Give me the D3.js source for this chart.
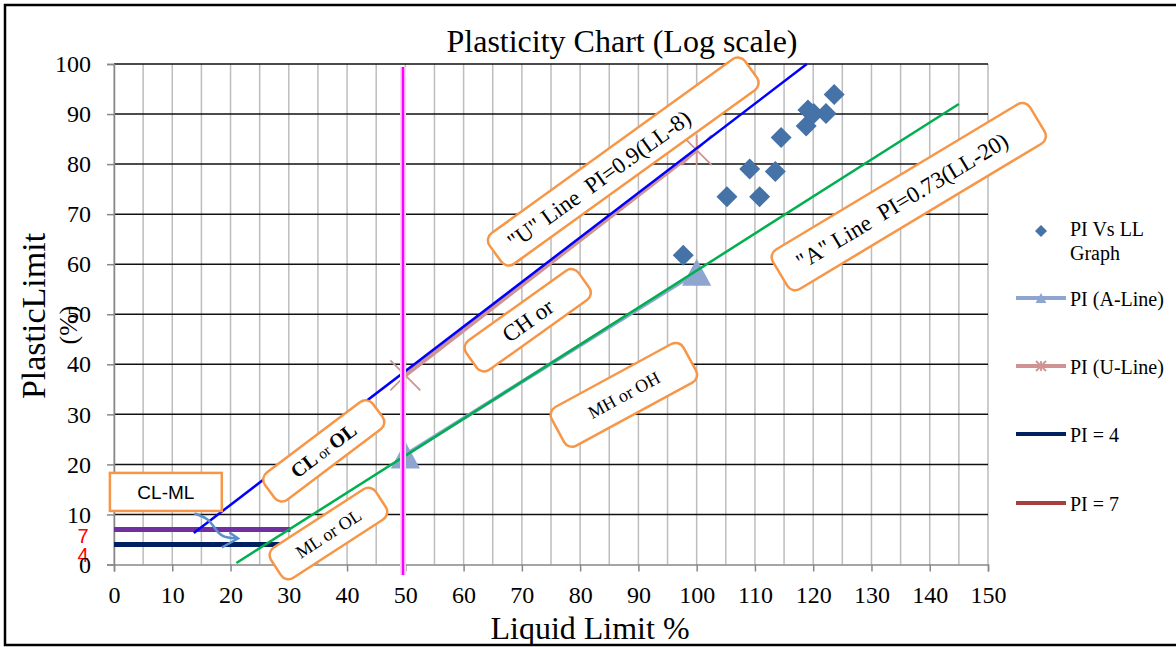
<!DOCTYPE html>
<html><head><meta charset="utf-8">
<script src="https://cdn.jsdelivr.net/npm/d3@7"></script>
<style>body{margin:0;background:#fff}svg{display:block}text{white-space:pre}</style>
</head><body>
<svg id="c" width="1176" height="647"></svg>
<script>
// ---------- data ----------
const xTickValues = d3.range(0, 151, 10);
const yTickValues = d3.range(0, 101, 10);
const xGridValues = d3.range(0, 151, 5);
const yGridValues = d3.range(0, 101, 10);

const sampleLL = [97.7, 105.2, 110.8, 109.1, 113.5, 114.5, 118.8, 119.1, 120.1, 122.2, 123.6];
const samplePI = [61.8, 73.5, 73.5, 79.0, 78.5, 85.3, 87.6, 90.8, 90.1, 90.1, 93.9];

const aLineLL = [50, 100];
const aLinePI = [21.9, 58.4];
const uLineLL = [50, 100];
const uLinePI = [37.8, 82.8];

const uDrawnLL = [13.7, 118.9], uDrawnPI = [6.3, 100];
const aDrawnLL = [21, 145], aDrawnPI = [0.3, 92];
const pi4LL = [0, 30], pi4PI = [4, 4];
const pi7LL = [0, 30.3], pi7PI = [7, 7];
const llLineLL = [49.6, 49.6], llLinePI = [-2.1, 99.4];

const arrowLL = [13.8, 16.2, 17.3, 18.5, 21.2];
const arrowPI = [10.2, 9.2, 7.2, 5.4, 5.2];
const arrowHeadLL = [19.8, 21.3, 18.5];
const arrowHeadPI = [6.4, 5.2, 3.4];

const legendLabels = ["PI Vs LL Graph", "PI (A-Line)", "PI (U-Line)", "PI = 4", "PI = 7"];

// annotation boxes: centre in data units
const boxLabels = ['"U" Line  PI=0.9(LL-8)', '"A" Line  PI=0.73(LL-20)', 'CH or', 'MH or OH', 'CL or OL', 'ML or OL'];
const boxLL = [87.4, 136.4, 71.0, 87.5, 36.0, 36.8];
const boxPI = [80.5, 73.5, 48.8, 33.9, 22.7, 6.2];

// ---------- layout ----------
const svg = d3.select("#c");
const x = d3.scaleLinear().domain([0, 150]).range([114, 988]);
const y = d3.scaleLinear().domain([0, 100]).range([564.5, 64]);
const serif = "'Liberation Serif','Times New Roman',serif";
const sans = "'Liberation Sans',Arial,sans-serif";

// outer frame
svg.append("rect").attr("x", 5).attr("y", 5).attr("width", 1180).attr("height", 640)
  .attr("fill", "none").attr("stroke", "#000").attr("stroke-width", 2.5);

// grid
svg.append("g").selectAll("line").data(xGridValues).join("line")
  .attr("x1", d => x(d)).attr("x2", d => x(d)).attr("y1", y(0)).attr("y2", y(100))
  .attr("stroke", "#bdbdbd").attr("stroke-width", 1.5);
svg.append("g").selectAll("line").data(yGridValues.filter(d => d > 0)).join("line")
  .attr("x1", x(0)).attr("x2", x(150)).attr("y1", d => y(d)).attr("y2", d => y(d))
  .attr("stroke", "#111").attr("stroke-width", 1.5);

// red 7 / 4 labels
svg.append("text").text("7").attr("x", 83).attr("y", y(7) + 14).attr("text-anchor", "middle")
  .attr("font-family", sans).attr("font-size", 20).attr("fill", "#ff0000");
svg.append("text").text("4").attr("x", 83).attr("y", y(4) + 18).attr("text-anchor", "middle")
  .attr("font-family", sans).attr("font-size", 20).attr("fill", "#ff0000");

// axes
const xAxis = svg.append("g").attr("transform", `translate(0,${y(0)})`)
  .call(d3.axisBottom(x).tickValues(xTickValues).tickSize(7).tickPadding(14));
const yAxis = svg.append("g").attr("transform", `translate(${x(0)},0)`)
  .call(d3.axisLeft(y).tickValues(yTickValues).tickSize(7).tickPadding(16));
[xAxis, yAxis].forEach(a => {
  a.select(".domain").attr("stroke", "#888").attr("stroke-width", 1.5);
  a.selectAll(".tick line").attr("stroke", "#888").attr("stroke-width", 1.5);
  a.selectAll("text").attr("font-family", serif).attr("font-size", 24).attr("fill", "#000");
});

const line2 = (lls, pis) => d3.line()(lls.map((v, i) => [x(v), y(pis[i])]));

// PI = 7 / PI = 4 drawn bars
svg.append("path").attr("d", line2(pi7LL, pi7PI)).attr("stroke", "#7030a0").attr("stroke-width", 5).attr("fill", "none");
svg.append("path").attr("d", line2(pi4LL, pi4PI)).attr("stroke", "#002060").attr("stroke-width", 5).attr("fill", "none");

// A-line series
const aCol = "#8ea5cf";
svg.append("path").attr("d", line2(aLineLL, aLinePI)).attr("stroke", aCol).attr("stroke-width", 4).attr("fill", "none");
const tri = (s) => `M0,${-s * 0.5}L${s * 0.54},${s * 0.5}L${-s * 0.54},${s * 0.5}Z`;
svg.append("g").selectAll("path").data(aLineLL).join("path")
  .attr("d", tri(27)).attr("fill", aCol)
  .attr("transform", (d, i) => `translate(${x(d)},${y(aLinePI[i])})`);

// green A line
svg.append("path").attr("d", line2(aDrawnLL, aDrawnPI)).attr("stroke", "#00b050").attr("stroke-width", 2.5).attr("fill", "none");

// U-line series
const uCol = "#d09393";
svg.append("path").attr("d", line2(uLineLL, uLinePI)).attr("stroke", uCol).attr("stroke-width", 4).attr("fill", "none");
const star = (s) => `M${-s},${-s}L${s},${s}M${-s},${s}L${s},${-s}M0,${-s}L0,${s}`;
svg.append("g").selectAll("path").data(uLineLL).join("path")
  .attr("d", star(15)).attr("stroke", uCol).attr("stroke-width", 1.8).attr("fill", "none")
  .attr("transform", (d, i) => `translate(${x(d)},${y(uLinePI[i])})`);

// blue U line
svg.append("path").attr("d", line2(uDrawnLL, uDrawnPI)).attr("stroke", "#0000ff").attr("stroke-width", 2.5).attr("fill", "none");

// sample diamonds
const dia = (s) => `M0,${-s}L${s},0L0,${s}L${-s},0Z`;
svg.append("g").selectAll("path").data(sampleLL).join("path")
  .attr("d", dia(10.5)).attr("fill", "#4572a7")
  .attr("transform", (d, i) => `translate(${x(d)},${y(samplePI[i])})`);

// magenta LL=50 line
svg.append("path").attr("d", line2(llLineLL, llLinePI)).attr("stroke", "#f6d8f6").attr("stroke-width", 6).attr("fill", "none");
svg.append("path").attr("d", line2(llLineLL, llLinePI)).attr("stroke", "#ff00ff").attr("stroke-width", 2.5).attr("fill", "none");

// curved arrow
svg.append("path").attr("d", d3.line().curve(d3.curveBasis)(arrowLL.map((v, i) => [x(v), y(arrowPI[i])])))
  .attr("stroke", "#5b8fcb").attr("stroke-width", 2.5).attr("fill", "none");
svg.append("path").attr("d", line2(arrowHeadLL, arrowHeadPI))
  .attr("stroke", "#5b8fcb").attr("stroke-width", 2.5).attr("fill", "none");

// CL-ML box
const clml = svg.append("g");
clml.append("rect").attr("x", x(-0.7)).attr("y", y(18.3)).attr("width", x(18.5) - x(-0.7)).attr("height", y(10.7) - y(18.3))
  .attr("fill", "#fff").attr("stroke", "#f79646").attr("stroke-width", 2.5);
clml.append("text").text("CL-ML").attr("x", x(8.9)).attr("y", y(14.5) + 7).attr("text-anchor", "middle")
  .attr("font-family", sans).attr("font-size", 19).attr("fill", "#000");

// rotated annotation boxes
const boxW = [315, 300, 138, 150, 135, 125];
const boxH = [38, 46, 36, 44, 34, 36];
const boxA = [-35.8, -31, -35.5, -28.5, -37, -33];
const boxFS = [23, 23, 23, 18, 18, 18];
const boxDX = [-30, -8, 0, 0, 0, 0];
boxLabels.forEach((lab, i) => {
  const g = svg.append("g").attr("transform", `translate(${x(boxLL[i])},${y(boxPI[i])}) rotate(${boxA[i]})`);
  g.append("rect").attr("x", -boxW[i] / 2).attr("y", -boxH[i] / 2).attr("width", boxW[i]).attr("height", boxH[i])
    .attr("rx", 9).attr("fill", "#fff").attr("stroke", "#f79646").attr("stroke-width", 2.5);
  const t = g.append("text").attr("x", boxDX[i]).attr("y", 0).attr("dy", "0.35em").attr("text-anchor", "middle")
    .attr("font-family", serif).attr("font-size", boxFS[i]).attr("fill", "#000");
  if (lab === "CL or OL") {
    t.append("tspan").text("CL").attr("font-weight", "bold").attr("font-size", 20);
    t.append("tspan").text(" or ").attr("font-size", 15);
    t.append("tspan").text("OL").attr("font-weight", "bold").attr("font-size", 20);
  } else t.text(lab);
});

// title & axis titles
svg.append("text").text("Plasticity Chart (Log scale)").attr("x", 622).attr("y", 52).attr("text-anchor", "middle")
  .attr("font-family", serif).attr("font-size", 32).attr("fill", "#000");
svg.append("text").text("Liquid Limit %").attr("x", 590).attr("y", 639).attr("text-anchor", "middle")
  .attr("font-family", serif).attr("font-size", 32).attr("fill", "#000");
svg.append("text").text("PlasticLimit").attr("transform", "translate(45,316) rotate(-90)").attr("text-anchor", "middle")
  .attr("font-family", serif).attr("font-size", 34).attr("fill", "#000");
svg.append("text").text("(%)").attr("transform", "translate(77,325) rotate(-90)").attr("text-anchor", "middle")
  .attr("font-family", serif).attr("font-size", 26).attr("fill", "#000");

// legend
const lg = svg.append("g").attr("font-family", serif).attr("font-size", 20).attr("fill", "#000");
lg.append("path").attr("d", dia(6)).attr("fill", "#4572a7").attr("transform", "translate(1041,231)");
lg.append("text").attr("x", 1070).attr("y", 236).text(legendLabels[0].slice(0, 8));
lg.append("text").attr("x", 1070).attr("y", 260).text(legendLabels[0].slice(9));
const legY = [298, 366, 434, 503];
const legCol = [aCol, uCol, "#002060", "#a5403e"];
legY.forEach((ly, i) => {
  lg.append("line").attr("x1", 1016).attr("x2", 1066).attr("y1", ly).attr("y2", ly)
    .attr("stroke", legCol[i]).attr("stroke-width", 4);
  if (i === 0) lg.append("path").attr("d", tri(10)).attr("fill", aCol).attr("transform", `translate(1041,${ly})`);
  if (i === 1) lg.append("path").attr("d", star(5)).attr("stroke", uCol).attr("stroke-width", 1.8).attr("transform", `translate(1041,${ly})`);
  lg.append("text").attr("x", 1070).attr("y", ly + 8).text(legendLabels[i + 1]);
});
</script>
</body></html>
